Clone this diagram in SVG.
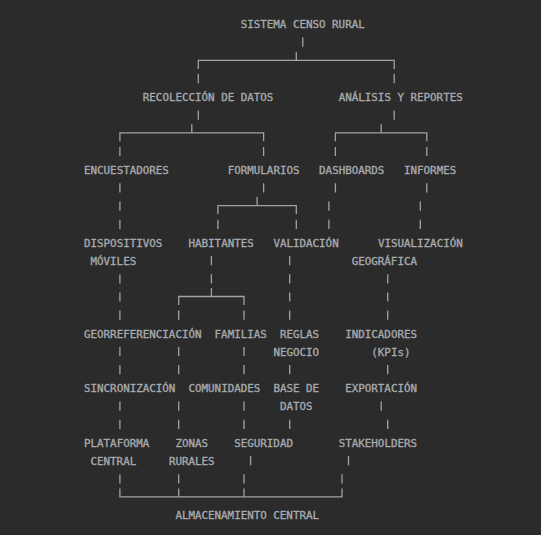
<svg xmlns="http://www.w3.org/2000/svg" width="541" height="535" viewBox="0 0 541 535">
<style>
.t{font-family:"DejaVu Sans Mono","Liberation Mono",monospace;font-size:10.85px;fill:#a6a9ad;stroke:#a6a9ad;stroke-width:0.35;white-space:pre}
.c{stroke:#9ea2a6;stroke-width:1.3;fill:none;stroke-linecap:butt}
</style>
<rect width="541" height="535" fill="#2b2b2b"/>
<g id="connectors" class="c">
<path d="M302.8 37.5V46.7"/>
<path d="M198.3 74.1V83.3M394.2 74.1V83.3"/>
<path d="M198.3 110.5V119.7M394.2 110.5V119.7"/>
<path d="M119.9 146.9V156.1M263.6 146.9V156.1M335.4 146.9V156.1M426.8 146.9V156.1"/>
<path d="M119.9 183.3V192.5M263.6 183.3V192.5M335.4 183.3V192.5M426.8 183.3V192.5"/>
<path d="M119.9 201.5V210.7M328.9 201.5V210.7M420.3 201.5V210.7"/>
<path d="M119.9 219.7V228.9M217.9 219.7V228.9M296.3 219.7V228.9M328.9 219.7V228.9M420.3 219.7V228.9"/>
<path d="M211.4 256.0V265.2M289.7 256.0V265.2"/>
<path d="M119.9 274.2V283.4M211.4 274.2V283.4M289.7 274.2V283.4M387.7 274.2V283.4"/>
<path d="M119.9 292.4V301.6M289.7 292.4V301.6M387.7 292.4V301.6"/>
<path d="M119.9 310.6V319.8M178.7 310.6V319.8M244.0 310.6V319.8M289.7 310.6V319.8M387.7 310.6V319.8"/>
<path d="M119.9 346.9V356.1M178.7 346.9V356.1M244.0 346.9V356.1"/>
<path d="M119.9 365.1V374.3M178.7 365.1V374.3M244.0 365.1V374.3M289.7 365.1V374.3M387.7 365.1V374.3"/>
<path d="M119.9 401.5V410.7M178.7 401.5V410.7M244.0 401.5V410.7M381.2 401.5V410.7"/>
<path d="M119.9 419.7V428.9M178.7 419.7V428.9M244.0 419.7V428.9M289.7 419.7V428.9M387.7 419.7V428.9"/>
<path d="M250.6 456.1V465.3M348.5 456.1V465.3"/>
<path d="M119.9 474.2V483.4M178.7 474.2V483.4M244.0 474.2V483.4M342.0 474.2V483.4"/>
<path d="M198.3 68.9V60.4H394.2V68.9M296.3 60.4V51.9"/>
<path d="M119.9 141.3V132.8H263.6V141.3M191.8 132.8V124.3"/>
<path d="M335.4 141.3V132.8H426.8V141.3M381.2 132.8V124.3"/>
<path d="M217.9 214.1V205.6H296.3V214.1M257.1 205.6V197.1"/>
<path d="M178.7 305.0V296.5H244.0V305.0M211.4 296.5V288.0"/>
<path d="M119.9 488.4V496.9H342.0V488.4M178.7 496.9V488.4M244.0 496.9V488.4"/>
</g>
<g id="n-sistema"><text class="t" x="240.7" y="28.3">SISTEMA CENSO RURAL</text></g>
<g id="n-recoleccion"><text class="t" x="142.8" y="101.1">RECOLECCIÓN DE DATOS</text></g>
<g id="n-analisis"><text class="t" x="338.7" y="101.1">ANÁLISIS Y REPORTES</text></g>
<g id="n-encuestadores"><text class="t" x="84" y="173.8">ENCUESTADORES</text></g>
<g id="n-formularios"><text class="t" x="227.7" y="173.8">FORMULARIOS</text></g>
<g id="n-dashboards"><text class="t" x="319.1" y="173.8">DASHBOARDS</text></g>
<g id="n-informes"><text class="t" x="404" y="173.8">INFORMES</text></g>
<g id="n-dispositivos"><text class="t" x="84" y="246.6">DISPOSITIVOS</text><text class="t" x="90.5" y="264.8">MÓVILES</text></g>
<g id="n-habitantes"><text class="t" x="188.5" y="246.6">HABITANTES</text></g>
<g id="n-validacion"><text class="t" x="273.4" y="246.6">VALIDACIÓN</text></g>
<g id="n-visualizacion"><text class="t" x="377.9" y="246.6">VISUALIZACIÓN</text><text class="t" x="351.7" y="264.8">GEOGRÁFICA</text></g>
<g id="n-georref"><text class="t" x="84" y="337.5">GEORREFERENCIACIÓN</text></g>
<g id="n-familias"><text class="t" x="214.6" y="337.5">FAMILIAS</text></g>
<g id="n-reglas"><text class="t" x="279.9" y="337.5">REGLAS</text><text class="t" x="273.4" y="355.7">NEGOCIO</text></g>
<g id="n-indicadores"><text class="t" x="345.2" y="337.5">INDICADORES</text><text class="t" x="371.3" y="355.7">(KPIs)</text></g>
<g id="n-sincronizacion"><text class="t" x="84" y="392.1">SINCRONIZACIÓN</text></g>
<g id="n-comunidades"><text class="t" x="188.5" y="392.1">COMUNIDADES</text></g>
<g id="n-basedatos"><text class="t" x="273.4" y="392.1">BASE DE</text><text class="t" x="279.9" y="410.3">DATOS</text></g>
<g id="n-exportacion"><text class="t" x="345.2" y="392.1">EXPORTACIÓN</text></g>
<g id="n-plataforma"><text class="t" x="84" y="446.7">PLATAFORMA</text><text class="t" x="90.5" y="464.9">CENTRAL</text></g>
<g id="n-zonas"><text class="t" x="175.4" y="446.7">ZONAS</text><text class="t" x="168.9" y="464.9">RURALES</text></g>
<g id="n-seguridad"><text class="t" x="234.2" y="446.7">SEGURIDAD</text></g>
<g id="n-stakeholders"><text class="t" x="338.7" y="446.7">STAKEHOLDERS</text></g>
<g id="n-almacenamiento"><text class="t" x="175.4" y="519.4">ALMACENAMIENTO CENTRAL</text></g>
</svg>
